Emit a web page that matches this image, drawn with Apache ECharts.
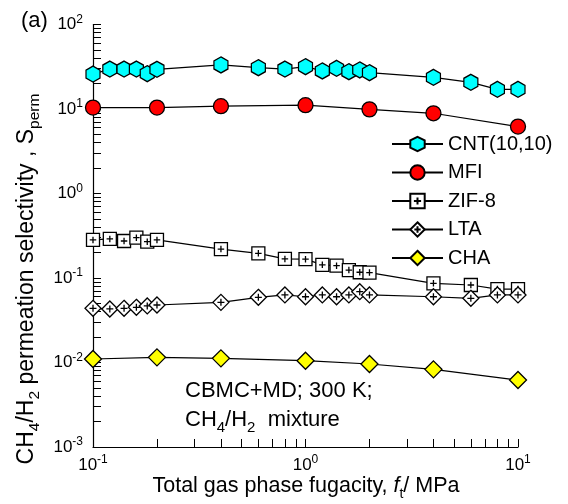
<!DOCTYPE html>
<html><head><meta charset="utf-8">
<script src="https://cdn.jsdelivr.net/npm/echarts@6.0.0/dist/echarts.min.js"></script>
<style>html,body{margin:0;padding:0;background:#fff}#c{width:568px;height:504px}</style>
</head><body><div id="c"></div>
<script>
// ---- data ----
const fugacityFull = [0.1,0.12,0.14,0.16,0.18,0.2,0.4,0.6,0.8,1,1.2,1.4,1.6,1.8,2,4,6,8,10];
const fugacitySparse = [0.1,0.2,0.4,1,2,4,10];
const cnt  = [25.9,29.7,29.7,29.7,26.2,29.5,33.2,30.8,29.7,31.7,28.2,30.3,27.6,29.0,26.9,23.7,20.7,17.1,17.1];
const mfi  = [10.4,10.4,10.8,11.1,9.9,8.9,6.2];
const zif8 = [0.282,0.290,0.274,0.300,0.269,0.282,0.220,0.196,0.168,0.167,0.143,0.140,0.124,0.117,0.116,0.0865,0.0826,0.074,0.074];
const lta  = [0.0438,0.0430,0.0438,0.0450,0.0467,0.0479,0.0515,0.0591,0.0630,0.0600,0.0630,0.0600,0.0630,0.0689,0.0630,0.0600,0.0575,0.0630,0.0630];
const cha  = [0.0110,0.0115,0.0112,0.0105,0.0096,0.0083,0.0062];
const seriesNames = ['CNT(10,10)','MFI','ZIF-8','LTA','CHA'];
// ---- ticks ----
const xTicks = [0.1,0.2,0.3,0.4,0.5,0.6,0.7,0.8,0.9,1,2,3,4,5,6,7,8,9,10];
const xLabels = [0.1,1,10];
const yTicks = [0.001,0.002,0.003,0.004,0.005,0.006,0.007,0.008,0.009,
  0.01,0.02,0.03,0.04,0.05,0.06,0.07,0.08,0.09,
  0.1,0.2,0.3,0.4,0.5,0.6,0.7,0.8,0.9,
  1,2,3,4,5,6,7,8,9,
  10,20,30,40,50,60,70,80,90,100];
const yLabels = [0.001,0.01,0.1,1,10,100];

const FONT = 'Liberation Sans, Arial, sans-serif';
const pairs = (xs, ys) => xs.map((x, i) => [x, ys[i]]);
const powLabel = v => '{b|10}{s|' + Math.round(Math.log10(v)) + '}';
const powRich = {
  b: {fontSize: 17, fontFamily: FONT, color: '#000', lineHeight: 22, verticalAlign: 'middle'},
  s: {fontSize: 12, fontFamily: FONT, color: '#000', verticalAlign: 'top'}
};
const hexPath = 'path://M7 0L14 4L14 12L7 16L0 12L0 4Z';
const sqPlus = 'path://M0 0H12V12H0Z M6 3V9 M3 6H9';
const diaPlus = 'path://M8 0L16 8L8 16L0 8Z M8 4.5V11.5 M4.5 8H11.5';

function mk(name, data, symbol, size, fill) {
  return {
    name, type: 'line', data, symbol, symbolSize: size,
    lineStyle: {color: '#000', width: 1.2},
    itemStyle: {color: fill, borderColor: '#000', borderWidth: 1.3},
    emphasis: {disabled: true}
  };
}

const chart = echarts.init(document.getElementById('c'));
chart.setOption({
  animation: false,
  backgroundColor: '#fff',
  grid: {left: 93, top: 24.5, width: 425, height: 422.5, outerBoundsMode: 'none'},
  xAxis: {
    type: 'log', logBase: 10, min: 0.1, max: 10,
    axisLine: {lineStyle: {color: '#000', width: 1.2}},
    axisTick: {inside: true, length: 8, customValues: xTicks, lineStyle: {color: '#000', width: 1}},
    axisLabel: {customValues: xLabels, margin: 7, formatter: powLabel, rich: powRich},
    splitLine: {show: false}
  },
  yAxis: {
    type: 'log', logBase: 10, min: 0.001, max: 100,
    axisLine: {show: true, lineStyle: {color: '#000', width: 1.2}},
    axisTick: {show: true, inside: true, length: 8, customValues: yTicks, lineStyle: {color: '#000', width: 1}},
    axisLabel: {customValues: yLabels, margin: 10, formatter: powLabel, rich: powRich},
    splitLine: {show: false}
  },
  legend: {
    orient: 'vertical', left: 386, top: 129,
    itemWidth: 51, itemHeight: 18, itemGap: 8.5,
    data: seriesNames,
    textStyle: {fontSize: 20, fontFamily: FONT, color: '#000'},
    selectedMode: false
  },
  series: [
    mk(seriesNames[0], pairs(fugacityFull, cnt), hexPath, [14, 16], '#00ffff'),
    mk(seriesNames[1], pairs(fugacitySparse, mfi), 'circle', 15, '#ff0000'),
    mk(seriesNames[2], pairs(fugacityFull, zif8), sqPlus, 13, '#ffffff'),
    mk(seriesNames[3], pairs(fugacityFull, lta), diaPlus, 16, '#ffffff'),
    mk(seriesNames[4], pairs(fugacitySparse, cha), 'diamond', 17, '#ffff00')
  ],
  graphic: [
    {type: 'text', x: 21, y: 21, style: {text: '(a)', fontSize: 22, fontFamily: FONT, fill: '#000', verticalAlign: 'middle'}},
    {type: 'text', x: 27, y: 279, rotation: Math.PI / 2,
     style: {text: '{n|CH}{sub|4}{n|/H}{sub|2}{n| permeation selectivity , S}{sub|perm}',
       align: 'center', verticalAlign: 'middle', fill: '#000',
       rich: {n: {fontSize: 23, fontFamily: FONT, fill: '#000', lineHeight: 32, verticalAlign: 'middle'},
              sub: {fontSize: 15.5, fontFamily: FONT, fill: '#000', verticalAlign: 'bottom'}}}},
    {type: 'text', x: 306, y: 486,
     style: {text: '{n|Total gas phase fugacity, }{i|f}{sub|t}{n|/ MPa}',
       align: 'center', verticalAlign: 'middle', fill: '#000',
       rich: {n: {fontSize: 21.5, fontFamily: FONT, fill: '#000', lineHeight: 30, verticalAlign: 'middle'},
              i: {fontSize: 21.5, fontFamily: FONT, fontStyle: 'italic', fill: '#000', lineHeight: 30, verticalAlign: 'middle'},
              sub: {fontSize: 14, fontFamily: FONT, fill: '#000', verticalAlign: 'bottom'}}}},
    {type: 'text', x: 185, y: 391,
     style: {text: 'CBMC+MD; 300 K;', fontSize: 22, fontFamily: FONT, fill: '#000', verticalAlign: 'middle'}},
    {type: 'text', x: 185, y: 420,
     style: {text: '{n|CH}{sub|4}{n|/H}{sub|2}{n|  mixture}', verticalAlign: 'middle', fill: '#000',
       rich: {n: {fontSize: 22, fontFamily: FONT, fill: '#000', lineHeight: 30, verticalAlign: 'middle'},
              sub: {fontSize: 15, fontFamily: FONT, fill: '#000', verticalAlign: 'bottom'}}}}
  ]
});
</script>
</body></html>
